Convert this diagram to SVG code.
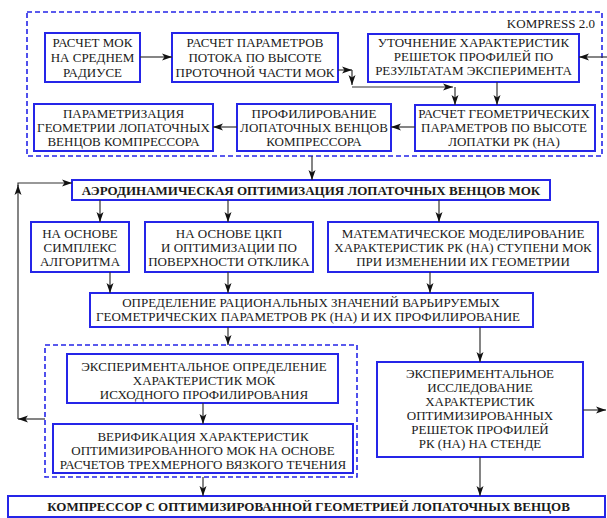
<svg xmlns="http://www.w3.org/2000/svg" width="607" height="518" viewBox="0 0 607 518">
<defs>
<marker id="ah" markerUnits="userSpaceOnUse" markerWidth="11" markerHeight="8" refX="10" refY="4" orient="auto">
<path d="M0,0.5 L10,4 L0,7.5 L2.5,4 z" fill="#111"/>
</marker>
</defs>
<style>
.box{fill:#fff;stroke:#2525e8;stroke-width:2}
.grp{fill:none;stroke:#2525e8;stroke-width:1.6;stroke-dasharray:5,3}
.t{font-family:"Liberation Serif","Times New Roman",serif;font-size:13px;fill:#1a1a1a;text-anchor:middle}
.b{font-weight:bold}
.c{stroke:#333;stroke-width:1.2;fill:none;marker-end:url(#ah)}
</style>
<rect width="607" height="518" fill="#fff"/>

<g id="kompress">
<rect class="grp" x="27" y="12" width="575" height="144"/>
<text class="t" x="595" y="27.5" style="text-anchor:end">KOMPRESS 2.0</text>
</g>

<g id="n1">
<rect class="box" x="45" y="33" width="95" height="49"/>
<text class="t" x="92.5" y="47">РАСЧЕТ МОК</text>
<text class="t" x="92.5" y="62">НА СРЕДНЕМ</text>
<text class="t" x="92.5" y="77">РАДИУСЕ</text>
</g>

<g id="n2">
<rect class="box" x="172" y="33" width="166" height="49"/>
<text class="t" x="255" y="47">РАСЧЕТ ПАРАМЕТРОВ</text>
<text class="t" x="255" y="62">ПОТОКА ПО ВЫСОТЕ</text>
<text class="t" x="255" y="76.5">ПРОТОЧНОЙ ЧАСТИ МОК</text>
</g>

<g id="n3">
<rect class="box" x="368" y="34" width="211" height="48"/>
<text class="t" x="473.5" y="47">УТОЧНЕНИЕ ХАРАКТЕРИСТИК</text>
<text class="t" x="473.5" y="61">РЕШЕТОК ПРОФИЛЕЙ ПО</text>
<text class="t" x="473.5" y="75">РЕЗУЛЬТАТАМ ЭКСПЕРИМЕНТА</text>
</g>

<g id="n4">
<rect class="box" x="415" y="105" width="180" height="46"/>
<text class="t" x="504" y="117.5">РАСЧЕТ ГЕОМЕТРИЧЕСКИХ</text>
<text class="t" x="504" y="131.5">ПАРАМЕТРОВ ПО ВЫСОТЕ</text>
<text class="t" x="504" y="146">ЛОПАТКИ РК (НА)</text>
</g>

<g id="n5">
<rect class="box" x="237" y="104" width="154" height="47"/>
<text class="t" x="314" y="117.5">ПРОФИЛИРОВАНИЕ</text>
<text class="t" x="314" y="131.5">ЛОПАТОЧНЫХ ВЕНЦОВ</text>
<text class="t" x="314" y="146">КОМПРЕССОРА</text>
</g>

<g id="n6">
<rect class="box" x="34" y="104" width="179" height="47"/>
<text class="t" x="123.5" y="117.5">ПАРАМЕТРИЗАЦИЯ</text>
<text class="t" x="123.5" y="131.5">ГЕОМЕТРИИ ЛОПАТОЧНЫХ</text>
<text class="t" x="123.5" y="145.5">ВЕНЦОВ КОМПРЕССОРА</text>
</g>

<g id="n7">
<rect class="box" x="72" y="180" width="478" height="20"/>
<text class="t b" x="311" y="195">АЭРОДИНАМИЧЕСКАЯ ОПТИМИЗАЦИЯ ЛОПАТОЧНЫХ ВЕНЦОВ МОК</text>
</g>

<g id="n8">
<rect class="box" x="31" y="222" width="98" height="50"/>
<text class="t" x="80" y="237.5">НА ОСНОВЕ</text>
<text class="t" x="80" y="251.5">СИМПЛЕКС</text>
<text class="t" x="80" y="265.5">АЛГОРИТМА</text>
</g>

<g id="n9">
<rect class="box" x="145" y="222" width="168" height="50"/>
<text class="t" x="229" y="237.5">НА ОСНОВЕ ЦКП</text>
<text class="t" x="229" y="251.5">И ОПТИМИЗАЦИИ ПО</text>
<text class="t" x="229" y="265.5">ПОВЕРХНОСТИ ОТКЛИКА</text>
</g>

<g id="n10">
<rect class="box" x="328" y="222" width="270" height="50"/>
<text class="t" x="463" y="237.5">МАТЕМАТИЧЕСКОЕ МОДЕЛИРОВАНИЕ</text>
<text class="t" x="463" y="251.5">ХАРАКТЕРИСТИК РК (НА) СТУПЕНИ МОК</text>
<text class="t" x="463" y="265.5">ПРИ ИЗМЕНЕНИИ ИХ ГЕОМЕТРИИ</text>
</g>

<g id="n11">
<rect class="box" x="90" y="293" width="443" height="34"/>
<text class="t" x="311" y="307">ОПРЕДЕЛЕНИЕ РАЦИОНАЛЬНЫХ ЗНАЧЕНИЙ ВАРЬИРУЕМЫХ</text>
<text class="t" x="308" y="321">ГЕОМЕТРИЧЕСКИХ ПАРАМЕТРОВ РК (НА) И ИХ ПРОФИЛИРОВАНИЕ</text>
</g>

<g id="verification">
<rect class="grp" x="45" y="345" width="312" height="132"/>
</g>

<g id="n13">
<rect class="box" x="67" y="354" width="271" height="49"/>
<text class="t" x="204" y="371">ЭКСПЕРИМЕНТАЛЬНОЕ ОПРЕДЕЛЕНИЕ</text>
<text class="t" x="204" y="385">ХАРАКТЕРИСТИК МОК</text>
<text class="t" x="204" y="399">ИСХОДНОГО ПРОФИЛИРОВАНИЯ</text>
</g>

<g id="n14">
<rect class="box" x="53" y="424" width="300" height="49"/>
<text class="t" x="203" y="440.5">ВЕРИФИКАЦИЯ ХАРАКТЕРИСТИК</text>
<text class="t" x="203" y="454.5">ОПТИМИЗИРОВАННОГО МОК НА ОСНОВЕ</text>
<text class="t" x="203" y="468.5">РАСЧЕТОВ ТРЕХМЕРНОГО ВЯЗКОГО ТЕЧЕНИЯ</text>
</g>

<g id="n12">
<rect class="box" x="377" y="362" width="206" height="95"/>
<text class="t" x="480" y="377.5">ЭКСПЕРИМЕНТАЛЬНОЕ</text>
<text class="t" x="480" y="391.5">ИССЛЕДОВАНИЕ</text>
<text class="t" x="480" y="405.5">ХАРАКТЕРИСТИК</text>
<text class="t" x="480" y="419.5">ОПТИМИЗИРОВАННЫХ</text>
<text class="t" x="480" y="433.5">РЕШЕТОК ПРОФИЛЕЙ</text>
<text class="t" x="480" y="447.5">РК (НА) НА СТЕНДЕ</text>
</g>

<g id="n15">
<rect class="box" x="8" y="496" width="597" height="21"/>
<text class="t b" x="308.5" y="510.5">КОМПРЕССОР С ОПТИМИЗИРОВАННОЙ ГЕОМЕТРИЕЙ ЛОПАТОЧНЫХ ВЕНЦОВ</text>
</g>

<g id="connectors">
<line class="c" x1="140" y1="57" x2="172" y2="57"/>
<line class="c" x1="338" y1="70" x2="352" y2="70"/>
<line class="c" x1="352" y1="70" x2="352" y2="85"/>
<line class="c" x1="352" y1="87" x2="453" y2="87"/>
<line class="c" x1="455" y1="87" x2="455" y2="105"/>
<line class="c" x1="607" y1="57" x2="579" y2="57"/>
<line class="c" x1="497" y1="82" x2="497" y2="105"/>
<line class="c" x1="415" y1="127" x2="391" y2="127"/>
<line class="c" x1="237" y1="127" x2="213" y2="127"/>
<line class="c" x1="312" y1="156" x2="312" y2="180"/>
<line class="c" x1="45" y1="419" x2="18" y2="419"/>
<line class="c" x1="18" y1="419" x2="18" y2="185"/>
<polyline class="c" points="18,186 18,183 72,183"/>
<line class="c" x1="100" y1="200" x2="100" y2="222"/>
<line class="c" x1="228" y1="200" x2="228" y2="222"/>
<line class="c" x1="439" y1="200" x2="439" y2="222"/>
<line class="c" x1="110" y1="272" x2="110" y2="293"/>
<line class="c" x1="228" y1="272" x2="228" y2="293"/>
<line class="c" x1="430" y1="272" x2="430" y2="293"/>
<line class="c" x1="228" y1="327" x2="228" y2="345"/>
<line class="c" x1="480" y1="327" x2="480" y2="362"/>
<line class="c" x1="203" y1="403" x2="203" y2="424"/>
<line class="c" x1="203" y1="477" x2="203" y2="496"/>
<line class="c" x1="480" y1="457" x2="480" y2="496"/>
<line class="c" x1="583" y1="410" x2="606" y2="410"/>
</g>
</svg>
